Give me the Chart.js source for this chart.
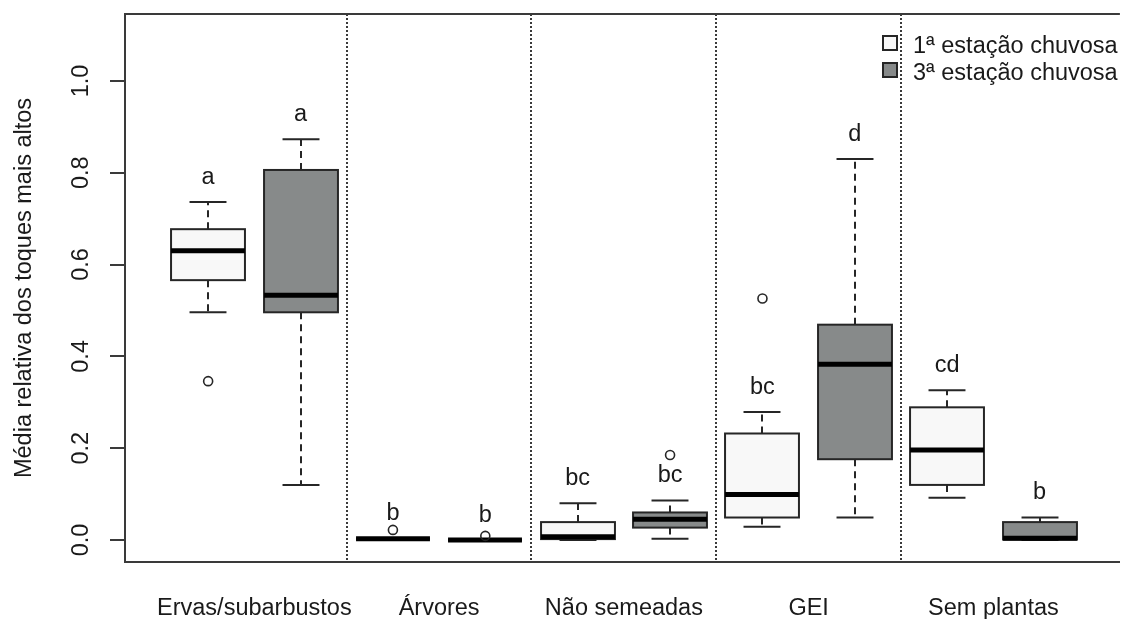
<!DOCTYPE html>
<html>
<head>
<meta charset="utf-8">
<script src="https://cdn.jsdelivr.net/npm/chart.js@4/dist/chart.umd.min.js"></script>
<style>
  html, body { margin: 0; padding: 0; background: #ffffff; }
  #wrap { width: 1126px; height: 619px; }
</style>
</head>
<body>
<div id="wrap"><canvas id="c" width="1126" height="619"></canvas></div>
<script>
// Vegetation groups and the two sampled rainy seasons
const groups = ['Ervas/subarbustos', 'Árvores', 'Não semeadas', 'GEI', 'Sem plantas'];
const seasons = ['1ª estação chuvosa', '3ª estação chuvosa'];

// One box per group and season, at x = 1..10
const boxPos    = [1, 2, 3, 4, 5, 6, 7, 8, 9, 10];
const boxSeason = [0, 1, 0, 1, 0, 1, 0, 1, 0, 1];
const whiskLo   = [0.496, 0.120, 0.003, 0.000, 0.000, 0.003, 0.029, 0.049, 0.092, 0.000];
const q1        = [0.566, 0.496, 0.003, 0.000, 0.002, 0.027, 0.049, 0.176, 0.120, 0.001];
const median    = [0.630, 0.533, 0.003, 0.000, 0.007, 0.045, 0.099, 0.383, 0.196, 0.004];
const q3        = [0.677, 0.806, 0.003, 0.000, 0.039, 0.060, 0.232, 0.469, 0.289, 0.039];
const whiskHi   = [0.736, 0.873, 0.003, 0.000, 0.080, 0.086, 0.279, 0.830, 0.326, 0.049];
const outliers  = [[0.346], [], [0.022], [0.009], [], [0.185], [0.526], [], [], []];
const letters   = ['a', 'a', 'b', 'b', 'bc', 'bc', 'bc', 'd', 'cd', 'b'];

// Axis ticks
const yTicks = [0.0, 0.2, 0.4, 0.6, 0.8, 1.0];
const groupTickPos = [1.5, 3.5, 5.5, 7.5, 9.5];
const separators = [2.5, 4.5, 6.5, 8.5];

// Styling
const FONT = 'Liberation Sans, Arial, Helvetica, sans-serif';
const FS = 23.5;
const TEXT = '#1a1a1a';
const INK = '#262626';
const FRAME = '#3a3a3a';
const FILLS = ['#f8f8f8', '#878a8a'];
const BOX_HALF = 0.4;      // half box width in x units
const STAPLE_HALF = 0.2;   // half whisker-cap width in x units
const LETTER_GAP = 0.04;   // letters sit this far above the upper whisker

const outlierPoints = [];
boxPos.forEach((p, i) => outliers[i].forEach(v => outlierPoints.push({ x: p, y: v })));

const noScalePadding = s => {
  s.paddingTop = 0; s.paddingBottom = 0; s.paddingLeft = 0; s.paddingRight = 0;
};

const boxPlugin = {
  id: 'boxes',
  beforeDatasetsDraw(chart) {
    const { ctx, chartArea: a, scales: { x, y } } = chart;
    ctx.save();
    // dotted separators between groups
    ctx.strokeStyle = FRAME;
    ctx.lineWidth = 2;
    ctx.setLineDash([2, 2]);
    separators.forEach(s => {
      const px = Math.round(x.getPixelForValue(s));
      ctx.beginPath();
      ctx.moveTo(px, a.top);
      ctx.lineTo(px, a.bottom);
      ctx.stroke();
    });

    const py = v => y.getPixelForValue(v);
    boxPos.forEach((p, i) => {
      const cx = Math.round(x.getPixelForValue(p));
      const hw = x.getPixelForValue(p + BOX_HALF) - x.getPixelForValue(p);
      const sw = x.getPixelForValue(p + STAPLE_HALF) - x.getPixelForValue(p);
      ctx.strokeStyle = INK;
      ctx.lineWidth = 2;
      // dashed whiskers
      ctx.setLineDash([7, 5]);
      ctx.beginPath();
      ctx.moveTo(cx, py(q3[i])); ctx.lineTo(cx, py(whiskHi[i]));
      ctx.moveTo(cx, py(q1[i])); ctx.lineTo(cx, py(whiskLo[i]));
      ctx.stroke();
      ctx.setLineDash([]);
      // whisker caps
      ctx.beginPath();
      ctx.moveTo(cx - sw, py(whiskHi[i])); ctx.lineTo(cx + sw, py(whiskHi[i]));
      ctx.moveTo(cx - sw, py(whiskLo[i])); ctx.lineTo(cx + sw, py(whiskLo[i]));
      ctx.stroke();
      // box
      const top = py(q3[i]), bot = py(q1[i]);
      ctx.fillStyle = FILLS[boxSeason[i]];
      ctx.fillRect(cx - hw, top, 2 * hw, bot - top);
      ctx.strokeRect(cx - hw, top, 2 * hw, bot - top);
      // median
      ctx.lineWidth = 5;
      ctx.strokeStyle = '#000000';
      ctx.beginPath();
      ctx.moveTo(cx - hw, py(median[i])); ctx.lineTo(cx + hw, py(median[i]));
      ctx.stroke();
    });
    ctx.restore();
  },
  afterDatasetsDraw(chart) {
    const { ctx, scales: { x, y } } = chart;
    ctx.save();
    ctx.font = FS + 'px ' + FONT;
    ctx.fillStyle = TEXT;
    ctx.textAlign = 'center';
    ctx.textBaseline = 'alphabetic';
    boxPos.forEach((p, i) => {
      ctx.fillText(letters[i], x.getPixelForValue(p), y.getPixelForValue(whiskHi[i] + LETTER_GAP));
    });
    ctx.restore();
  },
  afterDraw(chart) {
    const { ctx, chartArea: a } = chart;
    ctx.save();
    // top frame line
    ctx.strokeStyle = FRAME;
    ctx.lineWidth = 2;
    ctx.beginPath();
    ctx.moveTo(a.left, a.top);
    ctx.lineTo(a.right, a.top);
    ctx.stroke();
    // legend
    const lx = 883, ly = [36, 63], size = 14;
    ctx.font = FS + 'px ' + FONT;
    ctx.textAlign = 'left';
    ctx.textBaseline = 'alphabetic';
    seasons.forEach((s, k) => {
      ctx.fillStyle = FILLS[k];
      ctx.fillRect(lx, ly[k], size, size);
      ctx.strokeStyle = INK;
      ctx.lineWidth = 2;
      ctx.strokeRect(lx, ly[k], size, size);
      ctx.fillStyle = TEXT;
      ctx.fillText(s, 913, ly[k] + 16.7);
    });
    ctx.restore();
  }
};

new Chart(document.getElementById('c'), {
  type: 'scatter',
  data: {
    datasets: [{
      data: outlierPoints,
      pointStyle: 'circle',
      pointRadius: 4.5,
      pointBorderWidth: 1.6,
      pointBorderColor: INK,
      pointBackgroundColor: 'rgba(0,0,0,0)',
      showLine: false
    }]
  },
  options: {
    responsive: false,
    animation: false,
    devicePixelRatio: 1,
    layout: { padding: { top: 14, right: 0, left: 0, bottom: 0 } },
    plugins: { legend: { display: false }, tooltip: { enabled: false } },
    scales: {
      x: {
        type: 'linear',
        min: 0.1,
        max: 10.869,
        afterBuildTicks: s => { s.ticks = groupTickPos.map(v => ({ value: v })); },
        ticks: {
          callback: (v, i) => groups[i],
          font: { family: FONT, size: FS },
          color: TEXT,
          padding: 32,
          maxRotation: 0,
          autoSkip: false
        },
        grid: { display: false, drawTicks: false },
        border: { display: true, color: FRAME, width: 2 },
        afterFit: s => { s.height = 57; noScalePadding(s); }
      },
      y: {
        min: -0.0479,
        max: 1.1457,
        afterBuildTicks: s => { s.ticks = yTicks.map(v => ({ value: v })); },
        ticks: {
          callback: v => v.toFixed(1),
          minRotation: 90,
          maxRotation: 90,
          crossAlign: 'center',
          padding: 12,
          font: { family: FONT, size: FS },
          color: TEXT
        },
        grid: { drawOnChartArea: false, drawTicks: true, tickLength: 15, color: FRAME, lineWidth: 2 },
        border: { display: true, color: FRAME, width: 2 },
        title: {
          display: true,
          text: 'Média relativa dos toques mais altos',
          font: { family: FONT, size: FS },
          color: TEXT,
          padding: { top: 10, bottom: 0 }
        },
        afterFit: s => { s.width = 125; noScalePadding(s); }
      }
    }
  },
  plugins: [boxPlugin]
});
</script>
</body>
</html>
